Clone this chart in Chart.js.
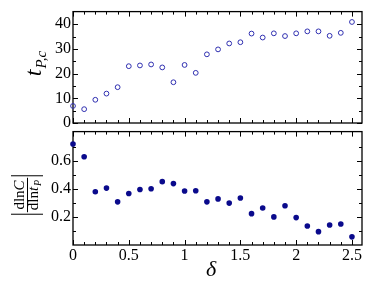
<!DOCTYPE html>
<html><head><meta charset="utf-8">
<script src="https://cdn.jsdelivr.net/npm/chart.js@4"></script>
<style>
html,body{margin:0;padding:0;background:#fff;width:374px;height:289px;overflow:hidden}
#c1{position:absolute;left:0;top:0}
#c2{position:absolute;left:0;top:120px}
</style></head><body>
<canvas id="c1" width="374" height="135"></canvas>
<canvas id="c2" width="374" height="169"></canvas>
<script>
const delta = [0,0.1,0.2,0.3,0.4,0.5,0.6,0.7,0.8,0.9,1.0,1.1,1.2,1.3,1.4,1.5,1.6,1.7,1.8,1.9,2.0,2.1,2.2,2.3,2.4,2.5];
const tPc = [6.9,5.6,9.4,11.9,14.5,23.0,23.3,23.7,22.5,16.5,23.5,20.3,27.8,29.8,32.2,32.7,36.2,34.6,36.3,35.2,36.3,37.1,37.1,35.3,36.5,40.9];
const sens = [0.719,0.628,0.379,0.405,0.307,0.367,0.395,0.400,0.451,0.437,0.384,0.386,0.307,0.328,0.298,0.335,0.223,0.263,0.200,0.279,0.195,0.135,0.095,0.142,0.149,0.058];
const xTicks = [0,0.5,1,1.5,2,2.5];
const xMinor = [0.1,0.2,0.3,0.4,0.6,0.7,0.8,0.9,1.1,1.2,1.3,1.4,1.6,1.7,1.8,1.9,2.1,2.2,2.3,2.4];
const topYTicks = [0,10,20,30,40];
const topYMinor = [5,15,25,35];
const botYTicks = [0.2,0.4,0.6];
const botYMinor = [0.1,0.3,0.5,0.7];

const SERIF = '"Liberation Serif"';
const tickFont = {family: SERIF, size: 16};

function framePlugin(yMaj, yMin) {
  return {
    id: 'frame',
    beforeDatasetsDraw(chart) {
      const ctx = chart.ctx, a = chart.chartArea;
      const xs = chart.scales.x, ys = chart.scales.y;
      ctx.save();
      ctx.strokeStyle = '#000';
      ctx.lineWidth = 1;
      ctx.beginPath();
      const tick = (vals, len) => {
        vals.forEach(v => {
          const px = Math.round(xs.getPixelForValue(v)) + 0.5;
          ctx.moveTo(px, a.bottom); ctx.lineTo(px, a.bottom - len);
          ctx.moveTo(px, a.top); ctx.lineTo(px, a.top + len);
        });
      };
      const ytick = (vals, len) => {
        vals.forEach(v => {
          const py = Math.round(ys.getPixelForValue(v)) + 0.5;
          ctx.moveTo(a.left, py); ctx.lineTo(a.left + len, py);
          ctx.moveTo(a.right, py); ctx.lineTo(a.right - len, py);
        });
      };
      tick(xTicks, 5); tick(xMinor, 3);
      ytick(yMaj, 5); ytick(yMin, 3);
      ctx.stroke();
      ctx.lineWidth = 1.3;
      ctx.strokeRect(a.left, a.top, a.right - a.left, a.bottom - a.top);
      ctx.restore();
    }
  };
}

const topTitle = {
  id: 'ttitle',
  afterDraw(chart) {
    const ctx = chart.ctx;
    ctx.save();
    ctx.translate(41, 64);
    ctx.rotate(-Math.PI / 2);
    ctx.fillStyle = '#000';
    ctx.font = 'italic 24px ' + SERIF;
    const wt = ctx.measureText('t').width;
    ctx.font = 'italic 15px ' + SERIF;
    const ws = ctx.measureText('P,c').width;
    const x0 = -(wt + ws) / 2;
    ctx.font = 'italic 24px ' + SERIF;
    ctx.fillText('t', x0, 0);
    ctx.font = 'italic 15px ' + SERIF;
    ctx.fillText('P,c', x0 + wt + 1, 5);
    ctx.restore();
  }
};

const botTitle = {
  id: 'btitle',
  afterDraw(chart) {
    const ctx = chart.ctx;
    ctx.save();
    ctx.fillStyle = '#000';
    ctx.strokeStyle = '#000';
    ctx.save();
    ctx.translate(27, 75);
    ctx.rotate(-Math.PI / 2);
    ctx.font = '15px ' + SERIF;
    const wn1 = ctx.measureText('dln').width;
    ctx.font = 'italic 15px ' + SERIF;
    const wn2 = ctx.measureText('C').width;
    const wn = wn1 + wn2;
    ctx.font = '15px ' + SERIF;
    const wd1 = ctx.measureText('dln').width;
    ctx.font = 'italic 15px ' + SERIF;
    const wd2 = ctx.measureText('t').width;
    ctx.font = 'italic 10px ' + SERIF;
    const wd3 = ctx.measureText('P').width;
    const wd = wd1 + wd2 + wd3 + 1;
    const w = Math.max(wn, wd) + 4;
    let x = -wn / 2;
    ctx.font = '15px ' + SERIF; ctx.fillText('dln', x, -3.5); x += wn1;
    ctx.font = 'italic 15px ' + SERIF; ctx.fillText('C', x, -3.5);
    x = -wd / 2;
    ctx.font = '15px ' + SERIF; ctx.fillText('dln', x, 11); x += wd1;
    ctx.font = 'italic 15px ' + SERIF; ctx.fillText('t', x, 11); x += wd2 + 1;
    ctx.font = 'italic 10px ' + SERIF; ctx.fillText('P', x, 14);
    ctx.lineWidth = 1;
    ctx.beginPath();
    ctx.moveTo(-w / 2, 0.5); ctx.lineTo(w / 2, 0.5);
    ctx.moveTo(-w / 2 - 2, -16); ctx.lineTo(-w / 2 - 2, 16);
    ctx.moveTo(w / 2 + 2, -16); ctx.lineTo(w / 2 + 2, 16);
    ctx.stroke();
    ctx.restore();
    ctx.font = 'italic 22px ' + SERIF;
    ctx.textAlign = 'center';
    ctx.fillText('\u03B4', 211, 156);
    ctx.restore();
  }
};

const commonX = (display) => ({
  type: 'linear', min: 0, max: 2.59, display: display,
  grid: {display: false, drawTicks: false}, border: {display: false},
  afterBuildTicks: s => { s.ticks = xTicks.map(v => ({value: v})); },
  ticks: {font: tickFont, color: '#000', padding: 1, maxRotation: 0,
          callback: v => String(v)}
});

new Chart(document.getElementById('c1'), {
  type: 'scatter',
  data: {datasets: [{
    data: delta.map((d, i) => ({x: d, y: tPc[i]})),
    pointStyle: 'circle', pointRadius: 2.4, borderWidth: 1,
    borderColor: '#2f2fb0', backgroundColor: 'rgba(0,0,0,0)', clip: false
  }]},
  options: {
    responsive: false, animation: false, devicePixelRatio: 1,
    layout: {padding: {left: 0, right: 12, top: 8, bottom: 12}},
    plugins: {legend: {display: false}, tooltip: {enabled: false}},
    scales: {
      x: commonX(false),
      y: {type: 'linear', min: 0, max: 45.1,
          grid: {display: false, drawTicks: false}, border: {display: false},
          afterFit: s => { s.width = 73; },
          afterBuildTicks: s => { s.ticks = topYTicks.map(v => ({value: v})); },
          ticks: {font: tickFont, color: '#000', padding: 2}}
    }
  },
  plugins: [framePlugin(topYTicks, topYMinor), topTitle]
});

new Chart(document.getElementById('c2'), {
  type: 'scatter',
  data: {datasets: [{
    data: delta.map((d, i) => ({x: d, y: sens[i]})),
    pointStyle: 'circle', pointRadius: 2.8, borderWidth: 0,
    backgroundColor: '#0a0a8c', borderColor: '#0a0a8c', clip: false
  }]},
  options: {
    responsive: false, animation: false, devicePixelRatio: 1,
    layout: {padding: {left: 0, right: 12, top: 9, bottom: 0}},
    plugins: {legend: {display: false}, tooltip: {enabled: false}},
    scales: {
      x: Object.assign(commonX(true), {afterFit: s => { s.height = 44; }}),
      y: {type: 'linear', min: 0, max: 0.807,
          grid: {display: false, drawTicks: false}, border: {display: false},
          afterFit: s => { s.width = 73; },
          afterBuildTicks: s => { s.ticks = botYTicks.map(v => ({value: v})); },
          ticks: {font: tickFont, color: '#000', padding: 2,
                  callback: v => v.toFixed(1)}}
    }
  },
  plugins: [framePlugin(botYTicks, botYMinor), botTitle]
});
</script>
</body></html>
